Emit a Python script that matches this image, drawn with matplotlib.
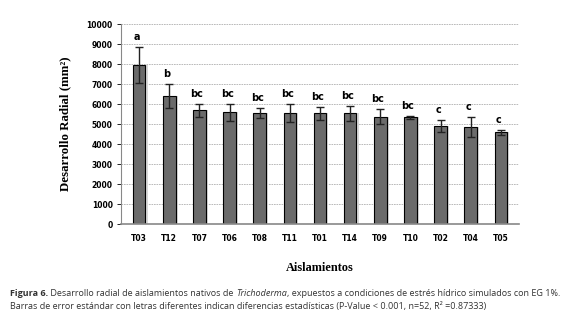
import matplotlib.pyplot as plt
import numpy as np

# data
aislamientos = ['T03', 'T12', 'T07', 'T06', 'T08', 'T11', 'T01', 'T14', 'T09', 'T10', 'T02', 'T04', 'T05']
desarrollo = [7950, 6400, 5680, 5580, 5550, 5550, 5530, 5530, 5370, 5330, 4900, 4850, 4580]
error = [900, 620, 330, 420, 230, 450, 320, 380, 380, 90, 320, 520, 130]
letras = ['a', 'b', 'bc', 'bc', 'bc', 'bc', 'bc', 'bc', 'bc', 'bc', 'c', 'c', 'c']

fig = plt.figure(figsize=(5.79, 3.24), dpi=100)
ax = fig.add_axes([121/579, 1-224/324, 398/579, 200/324])

x = np.arange(len(aislamientos))
# soft shadow behind bars
ax.bar(x + 0.07, desarrollo, width=0.42, color='#d8d8d8', zorder=1)
ax.bar(x, desarrollo, width=0.42, color='#6b6b6b', edgecolor='black', linewidth=0.8, zorder=2)
ax.errorbar(x, desarrollo, yerr=error, fmt='none', ecolor='#222222', elinewidth=1, capsize=3, capthick=1, zorder=3)

for xi, v, e, l in zip(x, desarrollo, error, letras):
    ax.text(xi - 0.08, v + e + 250, l, ha='center', va='bottom', fontsize=7, fontweight='bold')

ax.set_ylim(0, 10000)
ax.set_xlim(-0.6, len(aislamientos) - 0.4)
ax.set_yticks(np.arange(0, 10001, 1000))
ax.set_xticks(x)
ax.set_xticklabels(aislamientos)
ax.tick_params(axis='both', labelsize=5.5, length=0, pad=7)
for lab in ax.get_xticklabels() + ax.get_yticklabels():
    lab.set_fontweight('bold')
ax.tick_params(axis='y', length=3, direction='out', width=0.6, pad=3)
ax.yaxis.grid(True, linestyle=(0, (2, 1)), color='#b0b0b0', linewidth=0.6)
ax.set_axisbelow(True)
for s in ['top', 'right']:
    ax.spines[s].set_visible(False)
ax.spines['left'].set_color('#888888')
ax.spines['bottom'].set_color('#888888')
ax.spines['bottom'].set_linewidth(1.2)

fig.text(65/579, 1-124/324, 'Desarrollo Radial (mm²)', rotation=90, ha='center', va='center',
         fontfamily='Liberation Serif', fontweight='bold', fontsize=9.3)
fig.text(320/579, 1-268/324, 'Aislamientos', ha='center', va='center',
         fontfamily='Liberation Serif', fontweight='bold', fontsize=8.8)

# caption, first line is built from pieces (bold / normal / italic)
cap_kw = dict(fontsize=6.5, color='#333333', va='center', family='Open Sans')
partes = [('Figura 6.', 'normal', 'bold'),
          (' Desarrollo radial de aislamientos nativos de ', 'normal', 'normal'),
          ('Trichoderma', 'italic', 'normal'),
          (', expuestos a condiciones de estrés hídrico simulados con EG 1%.', 'normal', 'normal')]
renderer = fig.canvas.get_renderer()
xpos = 10
for txt, st, wt in partes:
    t = fig.text(xpos/579, 1-293/324, txt, style=st, fontweight=wt, **cap_kw)
    bb = t.get_window_extent(renderer=renderer)
    xpos += bb.width
fig.text(10/579, 1-306/324, 'Barras de error estándar con letras diferentes indican diferencias estadísticas (P-Value < 0.001, n=52, R² =0.87333)',
         **cap_kw)

fig.savefig('out.png', dpi=100)
